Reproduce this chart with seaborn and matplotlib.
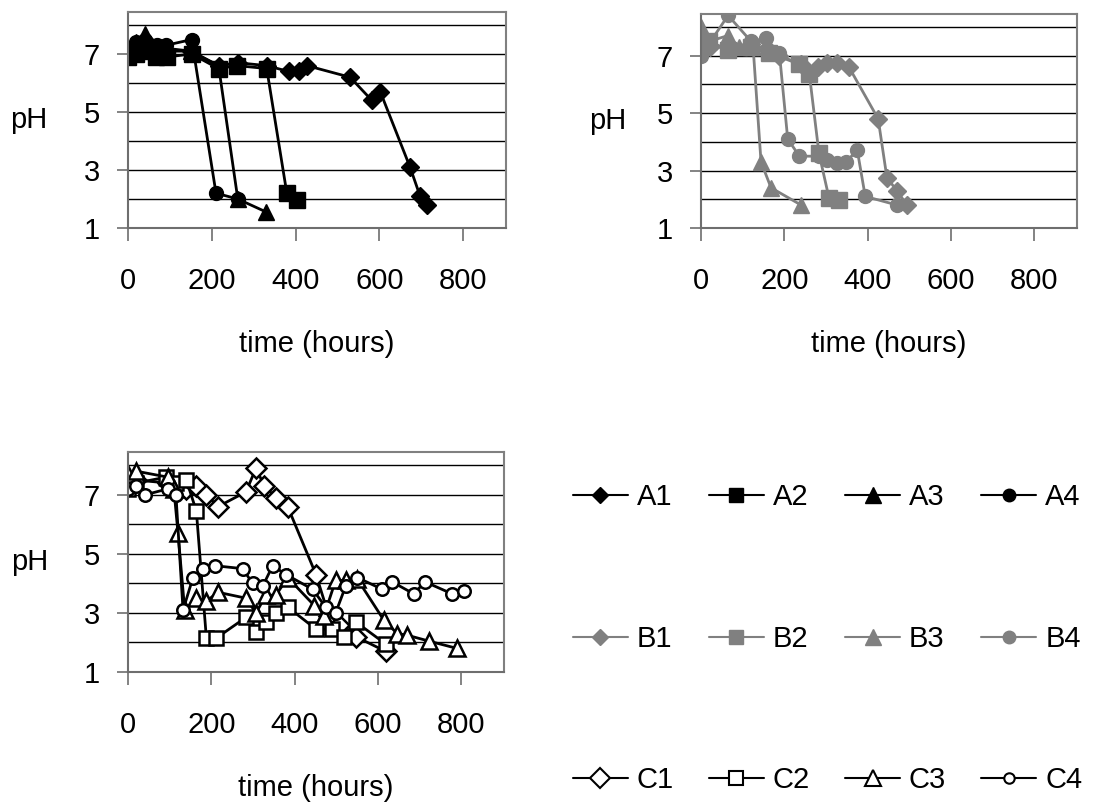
import matplotlib
matplotlib.use("Agg")
import matplotlib.pyplot as plt
from matplotlib.lines import Line2D
import seaborn as sns

# ---- data: time (hours) and pH for each culture ----
a1_t = [0, 20, 40, 70, 90, 150, 216, 262, 331, 383, 407, 427, 530, 582, 602, 673, 697, 713]
a1_ph = [7.0, 7.3, 7.5, 7.0, 7.1, 7.1, 6.6, 6.7, 6.6, 6.4, 6.4, 6.6, 6.2, 5.4, 5.7, 3.1, 2.1, 1.8]
a2_t = [0, 20, 40, 68, 92, 152, 216, 260, 331, 379, 403]
a2_ph = [6.9, 7.0, 7.1, 6.9, 6.9, 7.0, 6.5, 6.6, 6.5, 2.2, 1.95]
a3_t = [0, 20, 40, 70, 90, 150, 216, 262, 330]
a3_ph = [7.0, 7.4, 7.7, 7.2, 7.2, 7.1, 6.6, 2.0, 1.55]
a4_t = [0, 20, 40, 70, 90, 152, 210, 262]
a4_ph = [7.1, 7.4, 7.5, 7.3, 7.3, 7.5, 2.2, 2.0]

b1_t = [0, 21, 65, 120, 160, 188, 240, 280, 303, 327, 355, 425, 446, 470, 494]
b1_ph = [7.3, 7.3, 7.3, 7.4, 7.2, 7.0, 6.7, 6.6, 6.75, 6.75, 6.6, 4.8, 2.75, 2.3, 1.8]
b2_t = [0, 20, 65, 120, 164, 236, 260, 283, 307, 331]
b2_ph = [7.4, 7.5, 7.2, 7.3, 7.1, 6.7, 6.35, 3.6, 2.05, 1.98]
b3_t = [0, 20, 65, 90, 125, 144, 168, 240]
b3_ph = [8.0, 7.5, 7.7, 7.3, 7.3, 3.3, 2.4, 1.8]
b4_t = [0, 65, 120, 155, 188, 208, 236, 283, 303, 327, 347, 375, 394, 470]
b4_ph = [7.0, 8.4, 7.5, 7.6, 7.1, 4.1, 3.5, 3.5, 3.35, 3.25, 3.3, 3.7, 2.1, 1.8]

c1_t = [0, 20, 95, 115, 140, 164, 188, 216, 283, 307, 327, 355, 383, 451, 482, 506, 546, 618]
c1_ph = [7.3, 7.5, 7.4, 7.1, 7.2, 7.3, 7.0, 6.6, 7.1, 7.9, 7.3, 6.9, 6.6, 4.3, 2.9, 2.6, 2.2, 1.7]
c2_t = [0, 20, 92, 115, 140, 164, 188, 212, 283, 307, 331, 355, 383, 451, 490, 518, 546, 618]
c2_ph = [7.2, 7.4, 7.6, 7.4, 7.5, 6.45, 2.15, 2.15, 2.85, 2.35, 2.7, 3.0, 3.2, 2.45, 2.45, 2.2, 2.7, 1.95]
c3_t = [0, 20, 95, 110, 120, 136, 164, 188, 216, 283, 307, 331, 355, 383, 447, 470, 498, 522, 550,
        614, 646, 669, 721, 789]
c3_ph = [7.7, 7.8, 7.6, 7.2, 5.7, 3.1, 3.5, 3.4, 3.7, 3.5, 3.0, 3.6, 3.6, 4.2, 3.25, 2.9, 4.1, 4.1,
         4.15, 2.75, 2.3, 2.25, 2.05, 1.8]
c4_t = [0, 20, 41, 95, 115, 132, 156, 180, 208, 275, 299, 323, 347, 379, 443, 474, 498, 522, 550,
        610, 634, 685, 713, 777, 805]
c4_ph = [7.2, 7.3, 7.0, 7.2, 7.0, 3.1, 4.2, 4.5, 4.6, 4.5, 4.0, 3.9, 4.6, 4.3, 3.8, 3.2, 3.0, 3.9,
         4.2, 3.8, 4.05, 3.65, 4.05, 3.65, 3.75]

x_ticks = [0, 200, 400, 600, 800]
y_ticks = [1, 3, 5, 7]

GREY = "#808080"
FRAME = "#6e6e6e"
FS = 21

sns.set_style("white")
plt.rcParams["font.family"] = ["Liberation Sans", "DejaVu Sans"]
plt.rcParams["font.size"] = FS
plt.rcParams["text.color"] = "black"
plt.rcParams["axes.labelcolor"] = "black"

# marker style per replicate number (1..4)
SHAPES = {1: ("D", 9), 2: ("s", 11), 3: ("^", 12), 4: ("o", 10)}
OPEN_SIZES = {1: 10, 2: 10.5, 3: 12, 4: 9}


def style_axes(ax, height_px):
    ax.set_xlim(0, 902)
    ax.set_ylim(1, 8.45)
    ax.set_xticks(x_ticks)
    ax.set_yticks(y_ticks)
    ax.set_yticks(range(1, 9), minor=True)
    ax.tick_params(axis="y", which="minor", length=0)
    ax.tick_params(axis="x", which="major", length=9, width=1.2, color=FRAME, pad=19,
                   direction="out", bottom=True, labelsize=FS, labelcolor="black")
    ax.tick_params(axis="y", which="major", length=8, width=1.2, color=FRAME, pad=12,
                   direction="out", left=True, labelsize=FS, labelcolor="black")
    ax.grid(True, axis="y", which="both", color="black", linewidth=1.0)
    ax.set_axisbelow(True)
    for side in ("top", "right", "left", "bottom"):
        ax.spines[side].set_visible(True)
        ax.spines[side].set_color(FRAME if side in ("left", "bottom") else GREY)
        ax.spines[side].set_linewidth(1.5)
    ax.set_xlabel("time (hours)", va="center", fontsize=FS)
    ax.set_ylabel("pH", rotation=0, va="center", ha="center", fontsize=FS)
    ax.xaxis.set_label_coords(0.5, -116 / height_px)


def draw(ax, t, ph, rep, color, filled):
    marker, size = SHAPES[rep]
    if filled:
        sns.lineplot(x=t, y=ph, ax=ax, sort=False, estimator=None, color=color, linewidth=2,
                     marker=marker, markersize=size, markerfacecolor=color,
                     markeredgecolor=color, markeredgewidth=1)
    else:
        sns.lineplot(x=t, y=ph, ax=ax, sort=False, estimator=None, color="black", linewidth=2,
                     marker=marker, markersize=OPEN_SIZES[rep], markerfacecolor="white",
                     markeredgecolor="black", markeredgewidth=1.8)


fig = plt.figure(figsize=(11.04, 8.05), dpi=100)
ax_a = fig.add_axes([128 / 1104, 1 - 228 / 805, 378 / 1104, 216 / 805])
ax_b = fig.add_axes([701 / 1104, 1 - 228 / 805, 376 / 1104, 214 / 805])
ax_c = fig.add_axes([128 / 1104, 1 - 672 / 805, 376 / 1104, 220 / 805])

for rep, (t, ph) in enumerate([(a1_t, a1_ph), (a2_t, a2_ph), (a3_t, a3_ph), (a4_t, a4_ph)], 1):
    draw(ax_a, t, ph, rep, "black", True)
for rep, (t, ph) in enumerate([(b1_t, b1_ph), (b2_t, b2_ph), (b3_t, b3_ph), (b4_t, b4_ph)], 1):
    draw(ax_b, t, ph, rep, GREY, True)
for rep, (t, ph) in enumerate([(c1_t, c1_ph), (c2_t, c2_ph), (c3_t, c3_ph), (c4_t, c4_ph)], 1):
    draw(ax_c, t, ph, rep, "black", False)

style_axes(ax_a, 216)
style_axes(ax_b, 214)
style_axes(ax_c, 220)
ax_a.yaxis.set_label_coords(-0.262, 0.5)
ax_b.yaxis.set_label_coords(-0.247, 0.5)
ax_c.yaxis.set_label_coords(-0.262, 0.5)

# legend: rows A / B / C, columns 1..4 (matplotlib fills column by column)
leg_sizes = {1: 8, 2: 10, 3: 11, 4: 9}
open_leg = {1: 10, 2: 9.5, 3: 11, 4: 7.5}
handles, labels = [], []
for rep in (1, 2, 3, 4):
    marker = SHAPES[rep][0]
    for group in ("A", "B", "C"):
        if group == "C":
            h = Line2D([], [], color="black", lw=1.5, marker=marker, markersize=open_leg[rep],
                       markerfacecolor="white", markeredgecolor="black", markeredgewidth=1.5)
        else:
            col = "black" if group == "A" else GREY
            h = Line2D([], [], color=col, lw=1.5, marker=marker, markersize=leg_sizes[rep],
                       markerfacecolor=col, markeredgecolor=col)
        handles.append(h)
        labels.append(f"{group}{rep}")

fig.legend(handles, labels, ncol=4, loc="upper left", bbox_to_anchor=(573 / 1104, 1 - 483 / 805),
           frameon=False, borderpad=0, borderaxespad=0, handlelength=1.88, handletextpad=0.31,
           columnspacing=1.2, labelspacing=3.9, fontsize=FS, labelcolor="black")

fig.savefig("out.png", dpi=100)
